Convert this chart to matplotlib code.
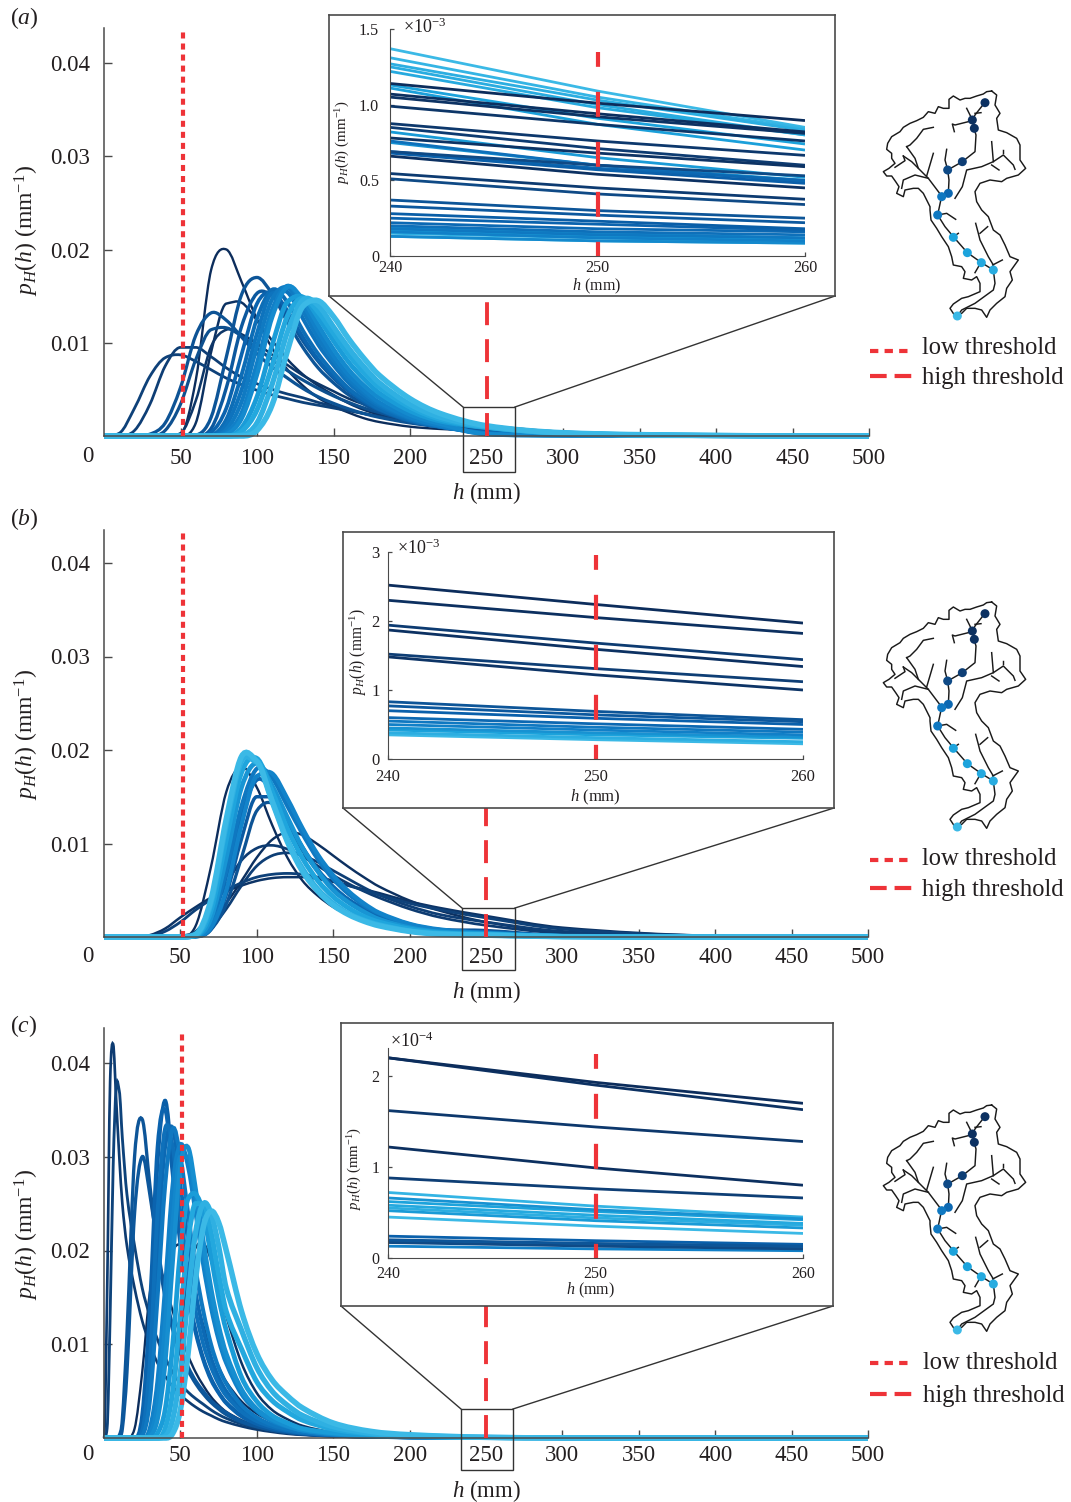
import numpy as np
from matplotlib import pyplot as plt
from matplotlib.colors import LinearSegmentedColormap
from matplotlib.lines import Line2D
from matplotlib.patches import PathPatch, Rectangle
from matplotlib.path import Path

W, H = 1071, 1502
RED = '#ee3338'
INK = '#231f20'
AXC = '#4a4a4a'

plt.rcParams['font.family'] = ['Liberation Serif', 'DejaVu Serif']
plt.rcParams['mathtext.fontset'] = 'custom'
plt.rcParams['mathtext.rm'] = 'Liberation Serif'
plt.rcParams['mathtext.it'] = 'Liberation Serif:italic'

blues = LinearSegmentedColormap.from_list(
    'river', ['#0c2d5c', '#0f4a86', '#0a60ab', '#1180c8', '#1ca3dc', '#3bb9e6'])

# all densities are in units of 1e-3 per mm
h_a = [0, 10, 20, 30, 40, 50, 60, 70, 80, 90, 100, 110, 120, 130, 140, 150, 160, 170, 180, 200, 220, 250, 300, 400, 500]
a_shades = [0, .03, .06, .12, .14, .25, .28, .30, .33, .42, .48, .52, .56, .60, .66, .76, .84, .92, 1.0]
a_curves = [
    [0, 0, 0, 0, 0, .2, 6, 17.8, 20, 16.5, 12.5, 9.4, 7.1, 5.4, 4.1, 3.2, 2.5, 1.9, 1.5, 1, .75, .55, .2, .02, 0],
    [0, 0, 0, 0, 0, 0, 1.4, 9, 14.2, 14.3, 12.4, 10.2, 8.2, 6.6, 5.4, 4.4, 3.5, 2.8, 2.3, 1.6, 1.15, .62, .2, .03, 0],
    [0, 0, 0, 0, 0, .3, 3.8, 9.6, 11.4, 10.9, 9.9, 8.7, 7.6, 6.5, 5.6, 4.8, 4, 3.4, 2.9, 2.1, 1.6, 1.1, .45, .07, 0],
    [0, .02, .6, 3.4, 7.5, 9.5, 9.5, 8.5, 7.3, 6.3, 5.6, 5, 4.5, 4.1, 3.6, 3.2, 2.8, 2.4, 2.1, 1.5, 1.1, .75, .3, .05, 0],
    [0, .3, 3, 6.4, 8.4, 8.7, 8, 7.1, 6.2, 5.5, 4.9, 4.4, 4, 3.6, 3.3, 3, 2.7, 2.4, 2.1, 1.6, 1.2, .85, .35, .06, 0],
    [0, 0, 0, 0, .6, 3.4, 8.2, 11.4, 11.6, 10.7, 9.4, 8.2, 7, 6, 5.1, 4.3, 3.6, 3, 2.5, 1.8, 1.3, .8, .3, .05, 0],
    [0, 0, 0, .2, 1.4, 5.2, 10.8, 13.2, 12.4, 10.6, 8.8, 7.4, 6.2, 5.1, 4.2, 3.5, 2.9, 2.4, 2, 1.4, 1, .6, .2, .03, 0],
    [0, 0, 0, 0, 0, 0, .1, 2, 8.5, 15.2, 17, 15.2, 12.2, 9.5, 7.3, 5.7, 4.4, 3.4, 2.6, 1.6, 1, .5, .15, .02, 0],
    [0, 0, 0, 0, 0, 0, 0, .8, 5.2, 11.8, 15.3, 15.1, 12.8, 10.2, 8, 6.2, 4.8, 3.7, 2.8, 1.7, 1, .45, .12, .02, 0],
    [0, 0, 0, 0, 0, 0, 0, .4, 3, 8.8, 14.2, 15.4, 13.4, 10.6, 8.2, 6.4, 4.9, 3.7, 2.8, 1.6, .95, .4, .1, .01, 0],
    [0, 0, 0, 0, 0, 0, 0, .1, 1.8, 6.6, 12.6, 15.7, 14.3, 11.3, 8.8, 6.8, 5.1, 3.9, 2.9, 1.7, 1, .35, .1, .01, 0],
    [0, 0, 0, 0, 0, 0, 0, 0, 1.2, 5, 11, 15.3, 15.4, 12.6, 9.8, 7.6, 5.7, 4.3, 3.2, 1.8, 1, .3, .08, .01, 0],
    [0, 0, 0, 0, 0, 0, 0, 0, .7, 3.7, 9.6, 14.7, 15.9, 13.4, 10.5, 8.1, 6.1, 4.6, 3.4, 1.9, 1.1, .28, .08, .01, 0],
    [0, 0, 0, 0, 0, 0, 0, 0, .4, 2.5, 7.8, 13.6, 16.1, 14.1, 11.2, 8.6, 6.5, 4.9, 3.6, 2, 1.1, .22, .06, .01, 0],
    [0, 0, 0, 0, 0, 0, 0, 0, .2, 1.9, 6.6, 12.8, 16, 14.6, 11.9, 9.3, 7.1, 5.4, 4.1, 2.3, 1.3, .2, .06, .01, 0],
    [0, 0, 0, 0, 0, 0, 0, 0, 0, .9, 4.2, 9.8, 14.4, 14.9, 12.7, 10.2, 7.9, 6.1, 4.6, 2.7, 1.6, .9, .3, .05, 0],
    [0, 0, 0, 0, 0, 0, 0, 0, 0, .5, 2.8, 7.6, 12.9, 14.8, 13.3, 11, 8.7, 6.8, 5.2, 3.1, 1.8, .95, .3, .05, 0],
    [0, 0, 0, 0, 0, 0, 0, 0, 0, .1, 1.4, 5.6, 11.2, 14.6, 14, 11.7, 9.4, 7.4, 5.7, 3.4, 2, 1, .32, .05, 0],
    [0, 0, 0, 0, 0, 0, 0, 0, 0, 0, .6, 3.4, 9.2, 13.9, 14.5, 12.8, 10.4, 8.3, 6.5, 4, 2.4, 1.1, .35, .06, 0],
]

h_b = h_a
b_shades = [0, .02, .05, .1, .12, .14, .28, .35, .45, .55, .62, .72, .82, .92, 1.0]
b_curves = [
    [0, 0, 0, 0, 0, 0, 1.2, 7.5, 15.5, 18.2, 16, 12, 8.5, 6, 4.4, 3.2, 2.4, 1.8, 1.3, .75, .45, .35, .08, .01, 0],
    [0, 0, 0, 0, 0, .05, .4, 1.6, 3.6, 6, 8.5, 10.4, 11.2, 10.9, 9.9, 8.7, 7.5, 6.4, 5.4, 3.9, 2.8, 1.6, .5, .05, 0],
    [0, 0, 0, .2, .9, 2.1, 3.2, 4.2, 4.9, 5.5, 6, 6.3, 6.4, 6.4, 6.2, 5.9, 5.5, 5.1, 4.7, 3.8, 3.1, 2.25, 1, .12, 0],
    [0, 0, 0, 0, 0, .1, .6, 2.6, 5.6, 8.2, 9.5, 9.8, 9.4, 8.6, 7.6, 6.6, 5.7, 4.9, 4.2, 3, 2.1, 1.25, .4, .04, 0],
    [0, 0, 0, 0, 0, 0, .15, 1, 3, 5.5, 7.6, 8.7, 9, 8.7, 8, 7.1, 6.2, 5.3, 4.5, 3.3, 2.4, 1.6, .6, .06, 0],
    [0, 0, 0, .1, .6, 1.6, 2.9, 4, 5, 5.8, 6.4, 6.7, 6.8, 6.7, 6.4, 6, 5.5, 5, 4.5, 3.6, 2.9, 2.05, .85, .1, 0],
    [0, 0, 0, 0, 0, 0, .1, .8, 3.5, 8.5, 13.5, 14.3, 12, 9.2, 7, 5.3, 4, 3, 2.3, 1.3, .8, .7, .15, .01, 0],
    [0, 0, 0, 0, 0, 0, .05, .8, 4.5, 10.5, 15, 15, 12.4, 9.5, 7.1, 5.3, 4, 3, 2.2, 1.2, .75, .6, .12, .01, 0],
    [0, 0, 0, 0, 0, 0, .1, 1.5, 6.5, 13, 16.8, 15.6, 12.5, 9.6, 7.2, 5.4, 4, 3, 2.2, 1.2, .7, .5, .1, .01, 0],
    [0, 0, 0, 0, 0, 0, .1, 1.6, 7, 14, 18, 17, 14, 11, 8.3, 6.2, 4.6, 3.4, 2.5, 1.35, .75, .45, .1, .01, 0],
    [0, 0, 0, 0, 0, 0, .05, 1, 5, 12, 17.2, 17.5, 14.8, 11.6, 8.8, 6.6, 4.9, 3.6, 2.6, 1.4, .8, .42, .09, .01, 0],
    [0, 0, 0, 0, 0, 0, .1, 2, 8.5, 16, 18.6, 16.2, 12.8, 9.5, 7, 5, 3.7, 2.7, 1.9, 1, .55, .35, .07, 0, 0],
    [0, 0, 0, 0, 0, 0, .15, 2.8, 10.4, 17.6, 19.1, 15.6, 11.6, 8.4, 6, 4.3, 3.1, 2.2, 1.6, .85, .45, .3, .05, 0, 0],
    [0, 0, 0, 0, 0, 0, .2, 3.6, 12, 18.8, 18.7, 14.6, 10.4, 7.3, 5.1, 3.6, 2.5, 1.8, 1.3, .65, .35, .22, .04, 0, 0],
    [0, 0, 0, 0, 0, 0, .3, 4, 12.6, 19.3, 18.8, 14.5, 10.2, 7, 4.9, 3.4, 2.4, 1.7, 1.2, .6, .3, .2, .04, 0, 0],
]

h_c = [0, 2, 4, 6, 8, 10, 12, 15, 20, 25, 30, 35, 40, 45, 50, 55, 60, 65, 70, 75, 80, 90, 100, 110, 120, 130, 150, 175, 200, 250, 300, 400, 500]
c_shades = [0, .02, .04, .1, .15, .3, .32, .38, .42, .46, .5, .55, .6, .64, .68, .76, .84, .92, 1.0]
c_curves = [
    [0, 0, 0, 0, 0, 0, 0, 0, 1, 7, 15.5, 18.3, 16.5, 13.5, 11, 8.8, 7, 5.6, 4.4, 3.5, 2.8, 1.9, 1.3, .9, .65, .45, .25, .14, .1, .05, .02, 0, 0],
    [0, 0, 0, 0, 0, 0, 0, 0, 0, 0, 1, 6, 14, 20, 20.5, 18, 15, 12, 9.6, 7.6, 6, 3.9, 2.6, 1.8, 1.3, .9, .5, .25, .13, .05, .01, 0, 0],
    [0, 0, 0, 0, 0, 0, 0, 0, 0, 0, 0, 0, 1, 4.5, 11, 17, 20.3, 20.8, 19, 16, 13, 8, 4.8, 3, 2, 1.3, .6, .3, .18, .19, .05, 0, 0],
    [0, 15, 38, 42, 36, 30, 25, 20.5, 16, 12.5, 10, 8, 6.6, 5.5, 4.6, 3.9, 3.3, 2.8, 2.4, 2, 1.7, 1.25, .9, .65, .45, .33, .18, .09, .05, .02, 0, 0, 0],
    [0, 1, 13, 29, 37.5, 37, 32, 26, 20.5, 16, 13, 10.5, 8.6, 7, 5.8, 4.9, 4.2, 3.6, 3, 2.5, 2.1, 1.5, 1.1, .8, .55, .4, .22, .11, .06, .02, 0, 0, 0],
    [0, 0, 0, 0, 0, .3, 2, 11, 30, 34, 27, 20, 15, 11.5, 9, 7.2, 5.8, 4.7, 3.8, 3.1, 2.5, 1.7, 1.2, .85, .6, .42, .22, .11, .06, .02, 0, 0, 0],
    [0, 0, 0, 0, 0, .1, 1, 7, 24, 30, 26, 20.5, 15.5, 12, 9.6, 7.6, 6.1, 5, 4, 3.3, 2.7, 1.8, 1.25, .85, .6, .42, .22, .11, .06, .02, 0, 0, 0],
    [0, 0, 0, 0, 0, 0, 0, 0, 0, 1.5, 11, 29, 36, 29, 21, 15.5, 11.5, 8.5, 6.4, 4.9, 3.8, 2.4, 1.6, 1.1, .75, .55, .3, .15, .08, .03, 0, 0, 0],
    [0, 0, 0, 0, 0, 0, 0, 0, 0, 2.5, 14, 31, 35, 28, 20.5, 15, 11.2, 8.3, 6.2, 4.8, 3.7, 2.3, 1.5, 1, .7, .5, .28, .14, .07, .03, 0, 0, 0],
    [0, 0, 0, 0, 0, 0, 0, 0, 0, .5, 6, 20, 31, 33, 27, 21, 15.5, 11.5, 8.6, 6.5, 5, 3.1, 2, 1.3, .9, .6, .32, .16, .08, .03, 0, 0, 0],
    [0, 0, 0, 0, 0, 0, 0, 0, 0, .8, 8, 24, 33, 31, 24, 18, 13.5, 10, 7.6, 5.8, 4.5, 2.8, 1.8, 1.2, .8, .55, .3, .15, .08, .03, 0, 0, 0],
    [0, 0, 0, 0, 0, 0, 0, 0, 0, .3, 4, 15, 27, 33, 30, 24, 18, 13.5, 10, 7.5, 5.8, 3.5, 2.2, 1.4, .95, .65, .33, .16, .08, .04, 0, 0, 0],
    [0, 0, 0, 0, 0, 0, 0, 0, 0, 0, 1, 6, 16, 27, 31.3, 29, 24, 18.5, 14, 10.5, 8, 4.7, 2.9, 1.8, 1.2, .8, .4, .2, .1, .05, .01, 0, 0],
    [0, 0, 0, 0, 0, 0, 0, 0, 0, 0, .5, 3.5, 12, 23, 30, 30, 25.5, 20, 15, 11.2, 8.5, 5, 3, 1.9, 1.25, .82, .42, .21, .11, .05, .01, 0, 0],
    [0, 0, 0, 0, 0, 0, 0, 0, 0, 0, .2, 2, 8, 19, 29, 31, 26.5, 21, 16, 12, 9, 5.2, 3.1, 2, 1.3, .85, .45, .22, .12, .05, .01, 0, 0],
    [0, 0, 0, 0, 0, 0, 0, 0, 0, 0, 0, .5, 3, 10, 20, 25.5, 26, 24, 19.5, 15, 11.5, 6.5, 3.9, 2.4, 1.6, 1, .55, .27, .15, .05, .01, 0, 0],
    [0, 0, 0, 0, 0, 0, 0, 0, 0, 0, 0, 0, 1, 5, 13, 21, 25, 25, 22, 17.5, 13.5, 9.5, 6, 4, 2.8, 1.9, .95, .42, .2, .06, .01, 0, 0],
    [0, 0, 0, 0, 0, 0, 0, 0, 0, 0, 0, 0, .2, 2, 7, 15, 22, 25, 24, 20.5, 16, 11.5, 7.5, 5, 3.5, 2.4, 1.2, .5, .25, .07, .02, 0, 0],
    [0, 0, 0, 0, 0, 0, 0, 0, 0, 0, 0, 0, 0, .5, 3, 9, 17, 22.5, 24.2, 23, 20, 13.5, 9, 6.2, 4.5, 3.2, 1.6, .7, .35, .07, .02, 0, 0],
]

# zoomed in part, value at 240, 250 and 260 mm for each line
inset_h = [240, 250, 260]
a_in_shades = [0, .02, .04, .06, .08, .1, .04, .2, .03, .1, .2, .3, .33, .38, .42, .46, .5, .55, .6, .65,
               1.0, .95, .9, .88, .86, .8, .78, .75, .7, .5, .45, .4, .7, .8, .9, 1.0]
a_in_240 = [1.14, 1.07, 1.05, .99, .875, .85, .78, .69, .66, .545, .51, .37, .33, .28, .25, .22, .2, .18, .16, .13,
            1.37, 1.31, 1.27, 1.25, 1.22, 1.13, 1.11, .82, .75, .76, .69, .68, .19, .17, .15, .13]
a_in_250 = [1.01, .94, .92, .87, .76, .71, .68, .6, .54, .45, .41, .3, .27, .23, .21, .18, .16, .14, .12, .1,
            1.09, 1.05, 1.03, 1, .98, .91, .87, .65, .6, .6, .58, .57, .15, .13, .12, .1]
a_in_260 = [.895, .82, .81, .76, .665, .6, .59, .53, .45, .375, .34, .25, .22, .18, .17, .16, .14, .12, .1, .085,
            .85, .84, .83, .8, .8, .74, .7, .52, .5, .49, .5, .48, .12, .11, .09, .085]

b_in_shades = [0, .02, .1, .03, .12, .05, .3, .33, .4, .45, .55, .6, .7, .8, .9, 1.0]
b_in_240 = [2.52, 2.3, 1.94, 1.87, 1.52, 1.48, .83, .77, .7, .6, .55, .5, .45, .42, .38, .35]
b_in_250 = [2.24, 2.05, 1.68, 1.59, 1.31, 1.22, .69, .64, .59, .51, .46, .42, .38, .35, .31, .28]
b_in_260 = [1.97, 1.82, 1.44, 1.34, 1.12, 1, .57, .54, .5, .43, .39, .35, .32, .3, .25, .22]

c_in_shades = [0, .03, .08, .02, .12, .95, .8, .85, .9, 1.0, .4, .3, .5, .2, .6, .7, .75]
c_in_240 = [2.2, 2.2, 1.62, 1.22, .88, .72, .62, .58, .55, .45, .24, .2, .18, .17, .13, .66, .52]
c_in_250 = [1.93, 1.9, 1.44, .99, .76, .57, .51, .47, .44, .35, .19, .16, .14, .13, .1, .53, .41]
c_in_260 = [1.7, 1.63, 1.28, .8, .66, .45, .42, .38, .36, .27, .15, .13, .12, .1, .08, .43, .33]

# catchment map, traced in its own pixel frame
outline_x = [395, 380, 370, 350, 330, 315, 300, 280, 267, 267, 250, 235, 225, 205, 190, 170, 150, 130, 120, 95, 83, 80, 95, 95, 105, 87, 70, 80, 95, 107, 117, 110, 130, 135, 160, 175, 190, 200, 210,
             210, 213, 230, 245, 265, 275, 280, 305, 315, 310, 335, 350, 360, 360, 325, 305, 280, 270, 285, 305, 320, 345, 365, 380, 390, 410, 435, 440, 457, 450, 475, 450, 435, 420, 400, 385, 365, 350,
             345, 360, 390, 425, 440, 475, 497, 480, 480, 470, 440, 415, 410, 420, 405, 410, 395]
outline_y = [33, 35, 42, 48, 55, 55, 60, 48, 58, 85, 85, 80, 100, 95, 112, 122, 130, 142, 155, 170, 190, 208, 220, 235, 250, 265, 275, 288, 288, 305, 320, 340, 350, 330, 325, 325, 340, 360, 380,
             390, 420, 445, 470, 500, 530, 555, 560, 575, 595, 600, 590, 610, 635, 650, 655, 672, 685, 708, 700, 685, 685, 690, 712, 690, 670, 650, 625, 600, 575, 540, 530, 495, 465, 450, 410, 390, 365,
             335, 310, 300, 305, 295, 285, 265, 240, 195, 175, 158, 150, 115, 100, 75, 45, 33]
stream_main_x = [374, 345, 337, 342, 348, 345, 307, 263, 267, 265, 245, 233, 255, 280, 322, 363, 400, 405, 400, 345, 305, 292]
stream_main_y = [68, 105, 122, 145, 165, 215, 245, 270, 300, 340, 348, 405, 440, 470, 518, 547, 570, 610, 630, 670, 690, 708]
tributaries_x = [[320, 330, 337], [345, 363], [337, 285, 277, 283], [245, 205, 175, 165, 140], [220, 190, 170, 150, 140],
                 [130, 155, 175], [105, 135, 130], [205, 165, 130, 125], [200, 220], [263, 255, 260],
                 [285, 307, 320, 365, 400, 430, 460, 465], [400, 395], [395, 417], [430, 430],
                 [233, 260, 287], [280, 295], [400, 385, 360, 355, 347], [360, 383], [398, 427], [363, 345]]
tributaries_y = [[85, 105, 122], [100, 98], [122, 135, 132, 155], [348, 295, 265, 235, 200], [142, 148, 175, 195, 200],
                 [228, 245, 265], [262, 242, 228], [295, 285, 300, 325], [288, 220], [270, 240, 208],
                 [355, 320, 270, 260, 245, 225, 255, 268], [245, 185], [255, 270], [220, 210],
                 [405, 400, 418], [470, 460], [555, 530, 480, 460, 430], [460, 440], [555, 540], [547, 578]]
gauge_x = [375, 337, 343, 307, 263, 265, 245, 233, 280, 322, 364, 400, 292]
gauge_y = [68, 120, 145, 245, 270, 340, 350, 405, 472, 518, 548, 570, 708]
gauge_shades = [.03, .02, .03, .12, .2, .45, .55, .55, .8, .8, .85, .88, 1.0]

main_ticks_x = [50, 100, 150, 200, 250, 300, 350, 400, 450, 500]
main_ticks_y = [.01, .02, .03, .04]


def px_rect(l, t, r, b):
    return [l / W, 1 - b / H, (r - l) / W, (b - t) / H]


def smooth_path(x, y):
    # bezier through the read values so the 10 mm grid doesnt show as corners
    x = np.array(x, dtype=float)
    y = np.array(y, dtype=float)
    d = np.diff(y) / np.diff(x)
    m = np.zeros(len(x))
    for i in range(1, len(x) - 1):
        s = (y[i + 1] - y[i - 1]) / (x[i + 1] - x[i - 1])
        if d[i - 1] == 0 or d[i] == 0:
            s = 0
        elif d[i - 1] * d[i] > 0:
            s = np.sign(s) * min(abs(s), 3 * min(abs(d[i - 1]), abs(d[i])))
        m[i] = s
    verts = [(x[0], y[0])]
    codes = [Path.MOVETO]
    for i in range(len(x) - 1):
        dx = (x[i + 1] - x[i]) / 3
        verts += [(x[i] + dx, y[i] + m[i] * dx), (x[i + 1] - dx, y[i + 1] - m[i + 1] * dx), (x[i + 1], y[i + 1])]
        codes += [Path.CURVE4] * 3
    return Path(verts, codes)


def fig_text(x, y, s, size, **kw):
    kw.setdefault('ha', 'center')
    kw.setdefault('va', 'center')
    fig.text(x / W, 1 - y / H, s, fontsize=size, color=INK, zorder=10, **kw)


def fig_line(xs, ys, **kw):
    fig.add_artist(Line2D([v / W for v in xs], [1 - v / H for v in ys], **kw))


def main_panel(x0, x500, y0, y04, top, hs, curves, shades, low_x, label, label_y, ylab_y, xlab_y, xtick_y, xpad):
    per = (y0 - y04) / .04
    ax = fig.add_axes(px_rect(x0, top, x500, y0), zorder=1)
    ax.patch.set_alpha(0)
    ax.set_xlim(0, 500)
    ax.set_ylim(0, (y0 - top) / per)
    for s in ['top', 'right']:
        ax.spines[s].set_visible(False)
    for s in ['left', 'bottom']:
        ax.spines[s].set_color(AXC)
        ax.spines[s].set_linewidth(1.1)
    ax.set_xticks(main_ticks_x)
    ax.set_yticks(main_ticks_y)
    ax.set_yticklabels(['%.2f' % v for v in main_ticks_y])
    ax.tick_params(direction='in', length=6, width=1, color=AXC, labelsize=16.5, labelcolor=INK)
    ax.tick_params(axis='x', pad=xpad)
    ax.tick_params(axis='y', pad=10)
    for c, s in zip(curves, shades):
        ys = np.array(c) * 1e-3
        ax.add_patch(PathPatch(smooth_path(hs, ys), fill=False, edgecolor=blues(float(s)),
                               lw=1.7 + 2.3 * s, clip_on=False, capstyle='butt', zorder=2))
    ax.plot([low_x, low_x], [0, (y0 - top - 2) / per], color=RED, lw=3, ls=(0, (1.45, 1.2)), zorder=5)
    ax.plot([250, 250], [0, (y0 - top - 2) / per], color=RED, lw=2.8, ls=(0, (5.9, 3.6)), zorder=5)
    fig_text(88, xtick_y, '0', 16.5)
    fig_text(486.5, xlab_y, r'$\mathit{h}$ (mm)', 16.5)
    fig_text(27, ylab_y, r'$\mathit{p}_{\mathit{H}}(\mathit{h})$ (mm$^{-1}$)', 17, rotation=90)
    fig_text(24, label_y, '(' + r'$\mathit{' + label + '}$' + ')', 17)


def zoom_inset(box, frame, axbox, ymax, yticks, ylabels, hs, v240, v250, v260, shades, mult, mult_xy, ylab, xlab_xy, fs, xpad, ypad):
    l, t, r, b = axbox
    fr = fig.add_axes(px_rect(*frame), zorder=5)
    fr.set_xticks([])
    fr.set_yticks([])
    for s in fr.spines.values():
        s.set_color(AXC)
        s.set_linewidth(1.2)
    fig.add_artist(Rectangle((box[0] / W, 1 - box[3] / H), (box[2] - box[0]) / W, (box[3] - box[1]) / H,
                             fill=False, ec='#333333', lw=1, zorder=3))
    fig_line([box[0], frame[0]], [box[1], frame[3]], color='#333333', lw=1, zorder=4)
    fig_line([box[2], frame[2]], [box[1], frame[3]], color='#333333', lw=1, zorder=4)
    ax = fig.add_axes(px_rect(l, t, r, b), zorder=6)
    ax.patch.set_alpha(0)
    ax.set_xlim(240, 260)
    ax.set_ylim(0, ymax)
    for s in ['top', 'right']:
        ax.spines[s].set_visible(False)
    for s in ['left', 'bottom']:
        ax.spines[s].set_color(AXC)
    ax.set_xticks([240, 250, 260])
    ax.set_yticks(yticks)
    ax.set_yticklabels(ylabels)
    ax.tick_params(direction='in', length=3, width=.9, color=AXC, labelsize=fs, labelcolor=INK)
    ax.tick_params(axis='x', pad=xpad)
    ax.tick_params(axis='y', pad=ypad)
    # light ones first, the dark lines sit on top in the zoomed view
    order = np.argsort(shades)[::-1]
    for i in order:
        ax.plot(hs, [v240[i], v250[i], v260[i]], color=blues(float(shades[i])), lw=2, solid_capstyle='butt')
    ax.plot([250, 250], [0, 204 / (b - t) * ymax], color=RED, lw=3, ls=(2.6, (6, 6)))
    fig_text(mult_xy[0], mult_xy[1], mult, 13, ha='left', va='center')
    fig_text(xlab_xy[0], xlab_xy[1], r'$\mathit{h}$ (mm)', fs)
    fig_text(ylab[0], ylab[1], r'$\mathit{p}_{\mathit{H}}(\mathit{h})$ (mm$^{-1}$)', fs - .8, rotation=90)


def catchment(dy, low_y, high_y, low_text_y, high_text_y, text_dx=0):
    ax = fig.add_axes(px_rect(860, 80 + dy, 1060, 400 + dy), zorder=2)
    ax.axis('off')
    ax.set_xlim(0, 600)
    ax.set_ylim(960, 0)
    ax.plot(outline_x, outline_y, color='#1a1a1a', lw=1.05)
    ax.plot(stream_main_x, stream_main_y, color='#1a1a1a', lw=1.05)
    for tx, ty in zip(tributaries_x, tributaries_y):
        ax.plot(tx, ty, color='#1a1a1a', lw=1.05)
    ax.scatter(gauge_x, gauge_y, s=42, c=[blues(float(s)) for s in gauge_shades], lw=0, zorder=3)
    fig_line([870, 908], [low_y, low_y], color=RED, lw=3, ls=(0, (2, 1.5)), zorder=3)
    fig_line([870, 912], [high_y, high_y], color=RED, lw=3, ls=(0, (4, 1.9)), zorder=3)
    fig_text(922 + text_dx, low_text_y, 'low threshold', 17.7, ha='left')
    fig_text(922 + text_dx, high_text_y, 'high threshold', 17.7, ha='left')


fig = plt.figure(figsize=(W / 100, H / 100), dpi=100)

main_panel(104, 869, 436, 63, 28, h_a, a_curves, a_shades, 51.5, 'a', 18, 231, 493, 457, 8.5)
main_panel(104, 868, 937, 563, 530, h_b, b_curves, b_shades, 51.5, 'b', 519, 735, 992, 956, 7)
main_panel(104, 868, 1438, 1063, 1028, h_c, c_curves, c_shades, 51, 'c', 1026, 1235, 1491, 1455, 5)

zoom_inset((463, 407, 515, 472), (329, 15, 835, 296), (390, 29, 805, 256), 1.5, [0, .5, 1, 1.5], ['0', '0.5', '1.0', '1.5'],
           inset_h, a_in_240, a_in_250, a_in_260, a_in_shades, r'$\times 10^{-3}$', (403, 27), (343, 142), (597, 286), 11.6, 3.2, 8)
zoom_inset((462, 908, 515, 970), (343, 532, 834, 808), (388, 552, 803, 759), 3, [0, 1, 2, 3], ['0', '1', '2', '3'],
           inset_h, b_in_240, b_in_250, b_in_260, b_in_shades, r'$\times 10^{-3}$', (397, 548), (358, 652), (595, 797), 12, 7, 6)
zoom_inset((461, 1409, 513, 1470), (341, 1023, 833, 1306), (388, 1048, 803, 1258), 210 / 91, [0, 1, 2], ['0', '1', '2'],
           inset_h, c_in_240, c_in_250, c_in_260, c_in_shades, r'$\times 10^{-4}$', (390, 1041), (355, 1168), (590, 1290), 11.5, 6, 6)

catchment(0, 351, 376, 348, 378)
catchment(511, 860, 888, 859, 890)
catchment(1014, 1363, 1394, 1363, 1396, 1)

plt.savefig('out.png', dpi=100)
